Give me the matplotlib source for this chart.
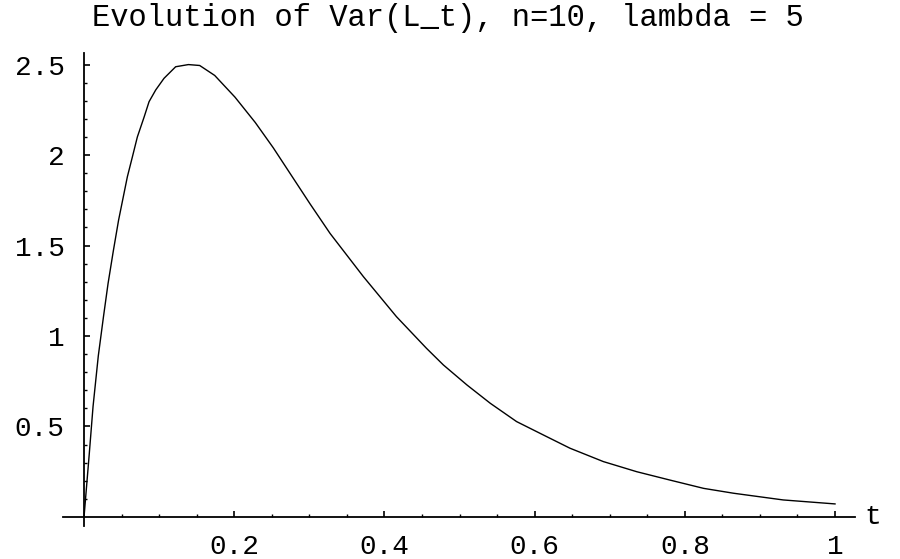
import matplotlib as mpl
mpl.use('Agg')
import matplotlib.pyplot as plt
import numpy as np

# values
t = [0.0, 0.007, 0.012, 0.019, 0.026, 0.032, 0.039, 0.046, 0.0577, 0.0644,
     0.071, 0.080, 0.0866, 0.0955, 0.1065, 0.122, 0.139, 0.154, 0.174, 0.201,
     0.228, 0.252, 0.301, 0.3276, 0.372, 0.416, 0.456, 0.4785, 0.510, 0.541,
     0.576, 0.616, 0.647, 0.6915, 0.736, 0.780, 0.825, 0.865, 0.931, 1.0]
var_l = [0.0, 0.35, 0.61, 0.89, 1.11, 1.29, 1.47, 1.64, 1.88, 1.99,
         2.10, 2.21, 2.295, 2.36, 2.424, 2.488, 2.50, 2.495, 2.44, 2.32,
         2.18, 2.04, 1.73, 1.567, 1.328, 1.107, 0.932, 0.84, 0.729, 0.628,
         0.527, 0.444, 0.38, 0.306, 0.25, 0.204, 0.158, 0.131, 0.094, 0.072]

x_major = [0.2, 0.4, 0.6, 0.8, 1.0]
x_labels = ['0.2', '0.4', '0.6', '0.8', '1']
y_major = [0.5, 1.0, 1.5, 2.0, 2.5]
y_labels = ['0.5', '1', '1.5', '2', '2.5']

title = 'Evolution of Var(L_t), n=10, lambda = 5'
font = 'Liberation Mono'

fig = plt.figure(figsize=(9, 5.59), dpi=100)
ax = fig.add_axes([63 / 900, 1 - 526 / 559, (855 - 63) / 900, (526 - 53) / 559])

ax.plot(t, var_l, color='black', lw=1.0)

ax.set_xlim(-0.028, 1.0266)
ax.set_ylim(-0.05, 2.564)

for s in ['top', 'right']:
    ax.spines[s].set_visible(False)
ax.spines['left'].set_position(('data', 0))
ax.spines['bottom'].set_position(('data', 0))
ax.spines['left'].set_linewidth(1.3)
ax.spines['bottom'].set_linewidth(1.3)

ax.set_xticks(x_major)
ax.set_xticklabels(x_labels, fontfamily=font, fontsize=20)
ax.set_xticks([v for v in np.arange(0.05, 1.0001, 0.05) if round(v, 2) not in x_major], minor=True)
ax.set_yticks(y_major)
ax.set_yticklabels(y_labels, fontfamily=font, fontsize=20)
ax.set_yticks([v for v in np.arange(0.1, 2.5001, 0.1) if round(v, 1) not in y_major], minor=True)

ax.tick_params(which='major', direction='in', length=4, width=1.2, color='black')
ax.tick_params(which='minor', direction='in', length=2.2, width=1.0, color='black')
ax.tick_params(axis='x', which='major', pad=12)
ax.tick_params(axis='y', which='major', pad=14)

fig.text(448 / 900, 1 - 18 / 559, title, ha='center', va='center',
         fontfamily=font, fontsize=22)
fig.text(873 / 900, 1 - 517 / 559, 't', ha='center', va='center',
         fontfamily=font, fontsize=20)

plt.savefig('out.png', dpi=100)
plt.close()
